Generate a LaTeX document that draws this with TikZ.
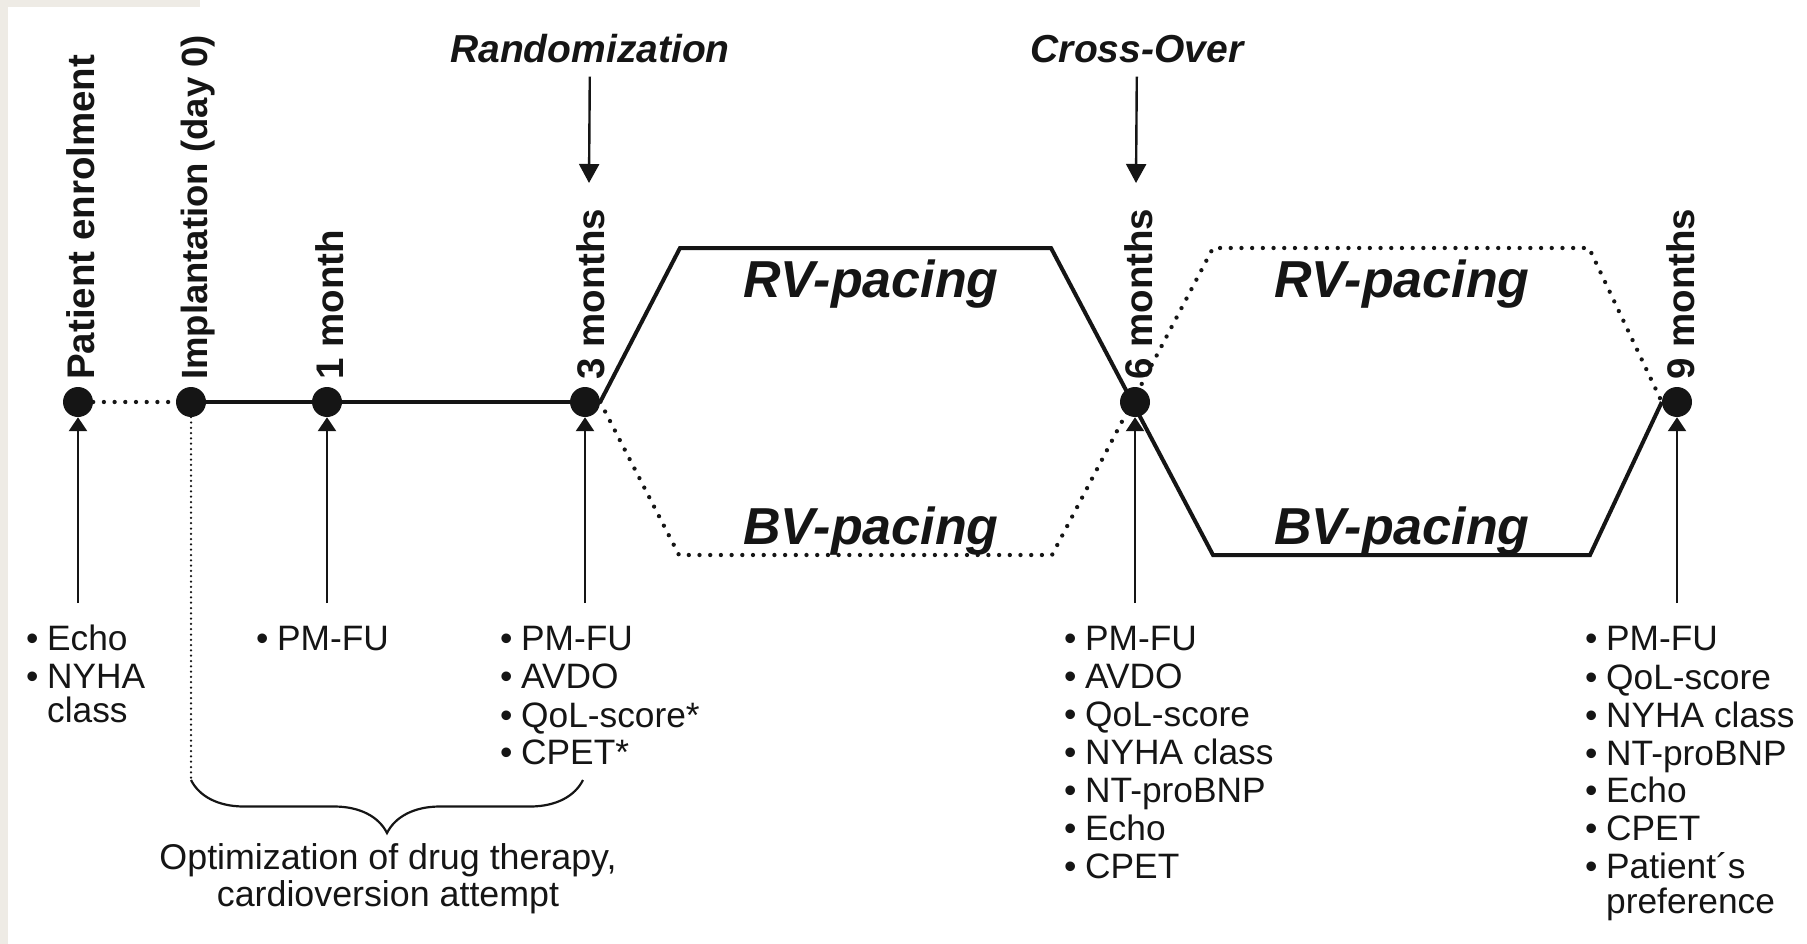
\documentclass[tikz,border=0pt]{standalone}
\usepackage{fontspec}
\setmainfont{Liberation Sans}
\usetikzlibrary{arrows.meta,decorations.pathreplacing,backgrounds}
\definecolor{ink}{HTML}{151515}
\definecolor{paper}{HTML}{EEEBE5}
\newcommand{\itmb}{\makebox[21pt][l]{•}}
\newcommand{\itms}{\hspace*{21pt}}
\begin{document}
\begin{tikzpicture}[x=1pt,y=-1pt,
  dot/.style={circle,fill=ink,inner sep=0pt,minimum size=30pt},
  vlabel/.style={rotate=90,anchor=base west,inner sep=0pt,font=\fontsize{38.5}{40}\selectfont\bfseries,text=ink},
  ilabel/.style={inner sep=0pt,anchor=base,font=\fontsize{39}{40}\selectfont\bfseries\itshape,text=ink},
  pace/.style={inner sep=0pt,anchor=base,font=\fontsize{52}{54}\selectfont\bfseries\itshape,text=ink},
  item/.style={inner sep=0pt,anchor=base west,font=\fontsize{35.3}{38}\selectfont,text=ink},
  solidline/.style={draw=ink,line width=4pt,line join=miter},
  dotline/.style={draw=ink,line width=4.3pt,line cap=round,dash pattern=on 0pt off 10.7pt},
  thindot/.style={draw=ink,line width=2.5pt,line cap=round,dash pattern=on 0pt off 5.3pt},
  uparrow/.style={draw=ink,line width=2.4pt,-{Triangle[length=14pt,width=18pt]}},
  downarrow/.style={draw=ink,line width=2.4pt,-{Triangle[length=19pt,width=20pt]}},
  bracestyle/.style={draw=ink,line width=2.2pt,decorate,decoration={brace,amplitude=53pt}}
]
\useasboundingbox (0,0) rectangle (1807,944);

% time points
\node[dot] (pe) at (78,402) {};
\node[dot] (im) at (191,402) {};
\node[dot] (m1) at (327,402) {};
\node[dot] (m3) at (585,402) {};
\node[dot] (m6) at (1135,402) {};
\node[dot] (m9) at (1677,402) {};

% corner points of the pacing arms
\coordinate (rv1a) at (680,248);
\coordinate (rv1b) at (1051,248);
\coordinate (bv1a) at (679,555);
\coordinate (bv1b) at (1052,555);
\coordinate (rv2a) at (1213,248);
\coordinate (rv2b) at (1589,248);
\coordinate (bv2a) at (1213,555);
\coordinate (bv2b) at (1590,555);

% arrow feet
\coordinate (fpe) at (78,603);
\coordinate (fm1) at (327,603);
\coordinate (fm3) at (585,603);
\coordinate (fm6) at (1135,603);
\coordinate (fm9) at (1677,603);
\coordinate (randtip) at (589,183);
\coordinate (crosstip) at (1136,183);
\coordinate (brL) at (191,780);
\coordinate (brR) at (583,780);

\begin{pgfonlayer}{background}
  \fill[white] (0,0) rectangle (1807,944);
  \fill[paper] (0,0) rectangle (8,944);
  \fill[paper] (0,0) rectangle (200,7);
  \draw[dotline] (pe) -- (im);
  \draw[solidline,line width=4.4pt] (im) -- (m1) -- (m3);
  \draw[solidline] (m3.east) -- (rv1a) -- (rv1b) -- (bv2a) -- (bv2b) -- (m9.west);
  \draw[dotline] (m3.east) -- (bv1a) -- (bv1b) -- (rv2a) -- (rv2b) -- (m9.west);
  \draw[thindot] (im.south) -- (brL);
\end{pgfonlayer}

% vertical labels
\node[vlabel] (lpe) at (94,380) {Patient enrolment};
\node[vlabel,font=\fontsize{36.5}{40}\selectfont\bfseries] (lim) at (207,380) {Implantation (day 0)};
\node[vlabel] (lm1) at (343,380) {1 month};
\node[vlabel] (lm3) at (604,380) {3 months};
\node[vlabel] (lm6) at (1152,380) {6 months};
\node[vlabel] (lm9) at (1694,380) {9 months};

% randomization / cross-over
\node[ilabel] (rand) at (590,63) {Randomization};
\node[ilabel] (cross) at (1137,63) {Cross-Over};
\draw[downarrow,shorten <=13pt] (rand) -- (randtip);
\draw[downarrow,shorten <=13pt] (cross) -- (crosstip);

% pacing labels
\node[pace] (rv1) at (871,297) {RV-pacing};
\node[pace] (bv1) at (871,544) {BV-pacing};
\node[pace] (rv2) at (1402,297) {RV-pacing};
\node[pace] (bv2) at (1402,544) {BV-pacing};

% up arrows
\draw[uparrow] (fpe) -- (pe);
\draw[uparrow] (fm1) -- (m1);
\draw[uparrow] (fm3) -- (m3);
\draw[uparrow] (fm6) -- (m6);
\draw[uparrow] (fm9) -- (m9);

% brace
\draw[bracestyle] (brR) -- (brL);
\node[inner sep=0pt,anchor=north,align=center,font=\fontsize{35.8}{37}\selectfont,text=ink] (opt) at (388,843) {Optimization of drug therapy,\\cardioversion attempt};

% lists
\node[item] (e1) at (26,650) {\itmb Echo};
\node[item] (e2) at (26,688) {\itmb NYHA};
\node[item] (e3) at (26,722) {\itms class};

\node[item] (a1) at (256,650) {\itmb PM-FU};

\node[item] (b1) at (500,650) {\itmb PM-FU};
\node[item] (b2) at (500,688) {\itmb AVDO};
\node[item] (b3) at (500,727) {\itmb QoL-score*};
\node[item] (b4) at (500,764) {\itmb CPET*};

\node[item] (c1) at (1064,650) {\itmb PM-FU};
\node[item] (c2) at (1064,688) {\itmb AVDO};
\node[item] (c3) at (1064,726) {\itmb QoL-score};
\node[item] (c4) at (1064,764) {\itmb NYHA class};
\node[item] (c5) at (1064,802) {\itmb NT-proBNP};
\node[item] (c6) at (1064,840) {\itmb Echo};
\node[item] (c7) at (1064,878) {\itmb CPET};

\node[item] (d1) at (1585,650) {\itmb PM-FU};
\node[item] (d2) at (1585,689) {\itmb QoL-score};
\node[item] (d3) at (1585,727) {\itmb NYHA class};
\node[item] (d4) at (1585,765) {\itmb NT-proBNP};
\node[item] (d5) at (1585,802) {\itmb Echo};
\node[item] (d6) at (1585,840) {\itmb CPET};
\node[item] (d7) at (1585,878) {\itmb Patient´s};
\node[item] (d8) at (1585,913) {\itms preference};
\end{tikzpicture}
\end{document}
